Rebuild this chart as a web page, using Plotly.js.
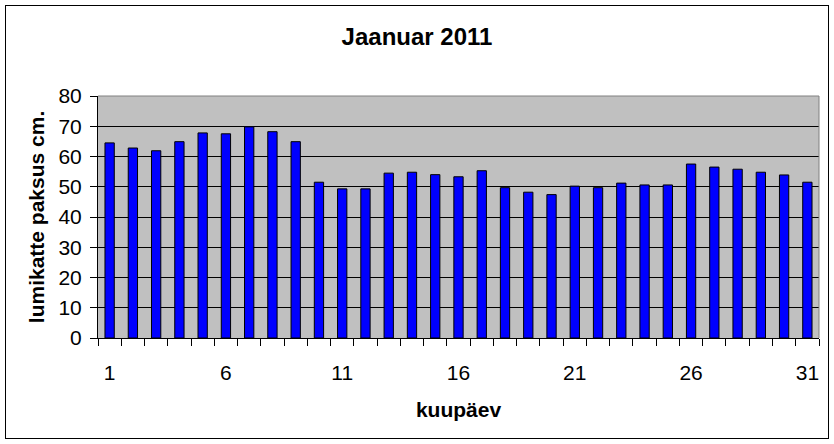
<!DOCTYPE html>
<html>
<head>
<meta charset="utf-8">
<script src="https://cdn.plot.ly/plotly-3.0.1.min.js"></script>
<style>
  body { margin: 0; background: #fff; }
  #wrap { position: relative; width: 834px; height: 444px; }
  #chart { width: 834px; height: 444px; }
  #frame { position: absolute; left: 5px; top: 5px; width: 822px; height: 432px;
           border: 1px solid #000; pointer-events: none; }
</style>
</head>
<body>
<div id="wrap">
  <div id="chart"></div>
  <div id="frame"></div>
</div>
<script>
    // --- DATA ---
    const days = [1, 2, 3, 4, 5, 6, 7, 8, 9, 10, 11, 12, 13, 14, 15, 16,
                  17, 18, 19, 20, 21, 22, 23, 24, 25, 26, 27, 28, 29, 30, 31];
    const snowDepth = [64.5, 62.8, 61.9, 64.9, 67.8, 67.5, 69.8, 68.2, 64.9, 51.5,
                       49.3, 49.3, 54.5, 54.8, 54.0, 53.3, 55.3, 49.7, 48.2, 47.4,
                       50.2, 49.7, 51.2, 50.6, 50.6, 57.5, 56.5, 55.8, 54.8, 53.9, 51.5];
    const xTickVals = [1, 6, 11, 16, 21, 26, 31];
    const xTickText = ['1', '6', '11', '16', '21', '26', '31'];

    const font = 'Liberation Sans, Arial, sans-serif';

    const trace = {
        type: 'bar',
        x: days,
        y: snowDepth,
        marker: { color: '#0000FF', line: { color: '#000000', width: 1 } },
        hoverinfo: 'x+y'
    };

    const layout = {
        width: 834,
        height: 444,
        margin: { l: 98, r: 15, t: 96, b: 106 },
        paper_bgcolor: '#FFFFFF',
        plot_bgcolor: '#C0C0C0',
        bargap: 0.6,
        showlegend: false,
        font: { family: font, color: '#000' },
        title: {
            text: '<b>Jaanuar 2011</b>',
            font: { family: font, size: 24, color: '#000' },
            x: 0.5, xref: 'container', xanchor: 'center',
            y: 1 - 37 / 444, yref: 'container', yanchor: 'middle'
        },
        xaxis: {
            range: [0.5, 31.5],
            tickmode: 'array',
            tickvals: xTickVals,
            ticktext: xTickText,
            ticks: '',
            ticklabelstandoff: 16,
            tickfont: { family: font, size: 21, color: '#000' },
            showgrid: false,
            zeroline: false,
            showline: true,
            linecolor: '#000',
            linewidth: 1,
            minor: { tickmode: 'linear', tick0: 0.5, dtick: 1, ticks: 'outside',
                     ticklen: 7, tickcolor: '#000', tickwidth: 1, showgrid: false },
            title: { text: '<b>kuupäev</b>', font: { family: font, size: 21, color: '#000' }, standoff: 19 },
            automargin: false
        },
        yaxis: {
            range: [0, 80],
            tickmode: 'linear',
            tick0: 0,
            dtick: 10,
            ticks: 'outside',
            ticklen: 7,
            tickcolor: '#000',
            ticklabelstandoff: 4,
            tickfont: { family: font, size: 21, color: '#000' },
            showgrid: true,
            gridcolor: '#000',
            gridwidth: 1,
            zeroline: false,
            showline: true,
            linecolor: '#000',
            linewidth: 1,
            title: { text: '<b>lumikatte paksus cm.</b>', font: { family: font, size: 21, color: '#000' }, standoff: 8 },
            automargin: false
        },
        shapes: [
            { type: 'line', xref: 'x domain', yref: 'y domain', x0: 0, x1: 1, y0: 1, y1: 1,
              line: { color: '#808080', width: 1 }, layer: 'above' },
            { type: 'line', xref: 'x domain', yref: 'y domain', x0: 1, x1: 1, y0: 0, y1: 1,
              line: { color: '#808080', width: 1 }, layer: 'above' }
        ]
    };

    Plotly.newPlot('chart', [trace], layout, { displayModeBar: false, staticPlot: true });
</script>
</body>
</html>
